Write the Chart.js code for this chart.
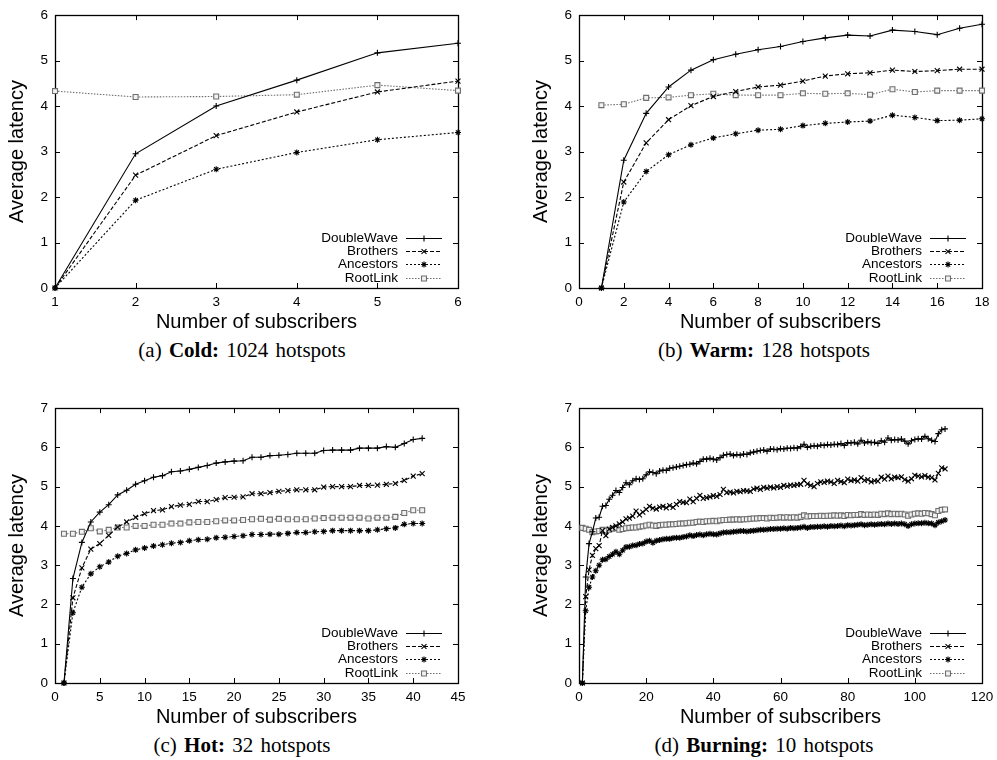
<!DOCTYPE html>
<html>
<head>
<meta charset="utf-8">
<script src="https://cdn.jsdelivr.net/npm/chart.js@4.4.1/dist/chart.umd.min.js"></script>
<style>
  body { margin: 0; background: #fff; width: 997px; height: 760px; position: relative; overflow: hidden; }
  canvas { position: absolute; }
  .cap { position: absolute; font-family: "Liberation Serif", "Times New Roman", serif; font-size: 21px;
         line-height: 24px; white-space: nowrap; transform: translateX(-50%); word-spacing: 2px; }
</style>
</head>
<body>
<canvas id="cold" width="490" height="335" style="left:0;top:0"></canvas>
<canvas id="warm" width="490" height="335" style="left:524px;top:0"></canvas>
<canvas id="hot" width="490" height="337" style="left:0;top:393px"></canvas>
<canvas id="burning" width="490" height="337" style="left:524px;top:393px"></canvas>
<div class="cap" style="left:242px;top:338px">(a) <b>Cold:</b> 1024 hotspots</div>
<div class="cap" style="left:764px;top:338px">(b) <b>Warm:</b> 128 hotspots</div>
<div class="cap" style="left:242px;top:733px">(c) <b>Hot:</b> 32 hotspots</div>
<div class="cap" style="left:764px;top:733px">(d) <b>Burning:</b> 10 hotspots</div>
<script>
// series names, in legend order
const seriesNames = ["DoubleWave", "Brothers", "Ancestors", "RootLink"];

// (a) Cold: 1024 hotspots, x = 1..6
const coldDoubleWave = [0, 2.95, 4.0, 4.57, 5.17, 5.38];
const coldBrothers = [0, 2.48, 3.35, 3.87, 4.31, 4.55];
const coldAncestors = [0, 1.93, 2.61, 2.98, 3.26, 3.42];
const coldRootLink = [4.33, 4.2, 4.21, 4.25, 4.46, 4.34];

// (b) Warm: 128 hotspots, x = 1..18
const warmDoubleWave = [0, 2.81, 3.84, 4.42, 4.79, 5.02, 5.14, 5.24, 5.31, 5.42, 5.5, 5.56, 5.54, 5.67, 5.64, 5.57, 5.71, 5.8];
const warmBrothers = [0, 2.33, 3.19, 3.7, 4.01, 4.21, 4.32, 4.42, 4.46, 4.55, 4.66, 4.71, 4.73, 4.79, 4.76, 4.78, 4.81, 4.81];
const warmAncestors = [0, 1.89, 2.56, 2.93, 3.15, 3.3, 3.39, 3.47, 3.49, 3.57, 3.62, 3.65, 3.67, 3.8, 3.75, 3.68, 3.69, 3.72];
const warmRootLink = [4.02, 4.04, 4.18, 4.19, 4.24, 4.27, 4.24, 4.24, 4.24, 4.28, 4.27, 4.28, 4.25, 4.37, 4.31, 4.34, 4.34, 4.34];

// (c) Hot: 32 hotspots, x = 1..41
const hotDoubleWave = [0, 2.66, 3.58, 4.1, 4.35, 4.54, 4.79, 4.91, 5.06, 5.15, 5.24, 5.28, 5.38, 5.4, 5.44, 5.49, 5.54, 5.6, 5.63, 5.65,
  5.66, 5.75, 5.75, 5.79, 5.8, 5.82, 5.85, 5.85, 5.85, 5.92, 5.93, 5.93, 5.93, 5.98, 5.98, 5.98, 6.02, 6.0, 6.1, 6.2, 6.23];
const hotBrothers = [0, 2.17, 2.93, 3.41, 3.55, 3.76, 3.97, 4.1, 4.22, 4.31, 4.39, 4.41, 4.49, 4.53, 4.55, 4.62, 4.62, 4.67, 4.72, 4.73,
  4.74, 4.82, 4.82, 4.85, 4.88, 4.9, 4.92, 4.92, 4.92, 4.99, 5.0, 5.0, 5.0, 5.03, 5.03, 5.04, 5.06, 5.08, 5.16, 5.27, 5.33];
const hotAncestors = [0, 1.79, 2.44, 2.78, 2.96, 3.08, 3.23, 3.3, 3.39, 3.44, 3.49, 3.52, 3.56, 3.58, 3.62, 3.65, 3.66, 3.7, 3.71, 3.73,
  3.75, 3.78, 3.78, 3.79, 3.79, 3.81, 3.83, 3.83, 3.85, 3.86, 3.88, 3.88, 3.88, 3.88, 3.88, 3.9, 3.93, 3.95, 4.04, 4.06, 4.06];
const hotRootLink = [3.8, 3.8, 3.85, 3.94, 3.86, 3.9, 3.96, 3.96, 4.0, 4.0, 4.03, 4.03, 4.06, 4.06, 4.09, 4.1, 4.1, 4.12, 4.14, 4.14,
  4.15, 4.17, 4.18, 4.16, 4.18, 4.17, 4.17, 4.17, 4.19, 4.2, 4.21, 4.21, 4.21, 4.21, 4.19, 4.21, 4.21, 4.23, 4.33, 4.4, 4.4];

// (d) Burning: 10 hotspots, x = 1..109
const burningDoubleWave = [0, 2.7, 3.55, 3.85, 4.2, 4.22, 4.5, 4.52, 4.68, 4.78, 4.9, 4.85, 4.98, 5.1, 5.05, 5.15, 5.2, 5.18, 5.2, 5.3,
  5.38, 5.36, 5.33, 5.4, 5.42, 5.41, 5.47, 5.48, 5.5, 5.52, 5.54, 5.56, 5.57, 5.6, 5.58, 5.64, 5.7, 5.7, 5.72, 5.7,
  5.68, 5.74, 5.8, 5.82, 5.83, 5.79, 5.82, 5.8, 5.83, 5.82, 5.86, 5.88, 5.9, 5.92, 5.93, 5.9, 5.96, 5.95, 5.94, 5.97,
  5.96, 5.98, 5.97, 5.99, 5.98, 6.02, 6.08, 6.0, 6.03, 6.04, 6.03, 6.06, 6.05, 6.07, 6.06, 6.08, 6.07, 6.1, 6.05, 6.12,
  6.11, 6.13, 6.09, 6.18, 6.11, 6.14, 6.12, 6.13, 6.1, 6.17, 6.13, 6.24, 6.18, 6.2, 6.19, 6.21, 6.16, 6.09, 6.17, 6.2,
  6.22, 6.21, 6.28, 6.22, 6.18, 6.15, 6.35, 6.45, 6.47];
const burningBrothers = [0, 2.2, 2.88, 3.25, 3.42, 3.5, 3.88, 3.75, 3.92, 3.96, 4.0, 4.05, 4.1, 4.18, 4.2, 4.25, 4.38, 4.28, 4.35, 4.42,
  4.5, 4.45, 4.43, 4.48, 4.5, 4.46, 4.52, 4.47, 4.55, 4.62, 4.6, 4.59, 4.68, 4.62, 4.7, 4.78, 4.7, 4.72, 4.74, 4.77,
  4.75, 4.8, 4.93, 4.85, 4.86, 4.84, 4.88, 4.87, 4.9, 4.89, 4.88, 4.94, 4.96, 4.93, 4.98, 4.96, 4.99, 4.97, 5.0, 4.98,
  5.03, 5.01, 5.04, 5.03, 5.05, 5.06, 5.16, 5.07, 5.03, 5.0, 5.08, 5.12, 5.11, 5.14, 5.12, 5.08, 5.16, 5.13, 5.1, 5.19,
  5.15, 5.17, 5.14, 5.23, 5.16, 5.18, 5.12, 5.15, 5.14, 5.24, 5.19, 5.27, 5.2, 5.24, 5.23, 5.25, 5.18, 5.14, 5.2, 5.29,
  5.27, 5.25, 5.28, 5.24, 5.23, 5.17, 5.34, 5.48, 5.45];
const burningAncestors = [0, 1.84, 2.44, 2.7, 2.86, 3.0, 3.14, 3.15, 3.22, 3.28, 3.34, 3.28, 3.38, 3.46, 3.47, 3.5, 3.51, 3.54, 3.55, 3.6,
  3.62, 3.57, 3.62, 3.64, 3.66, 3.67, 3.67, 3.69, 3.7, 3.7, 3.72, 3.73, 3.76, 3.74, 3.77, 3.78, 3.76, 3.79, 3.8, 3.79,
  3.78, 3.81, 3.83, 3.84, 3.84, 3.85, 3.86, 3.87, 3.87, 3.86, 3.87, 3.88, 3.89, 3.9, 3.9, 3.91, 3.92, 3.92, 3.93, 3.93,
  3.94, 3.93, 3.95, 3.94, 3.95, 3.96, 3.98, 3.95, 3.97, 3.97, 3.98, 3.98, 3.99, 3.98, 4.0, 3.99, 4.0, 4.01, 3.99, 4.02,
  4.01, 4.02, 4.03, 4.04, 4.02, 4.03, 4.04, 4.03, 4.04, 4.05, 4.04, 4.06, 4.05, 4.06, 4.05, 4.06, 4.04, 4.0, 4.04, 4.06,
  4.07, 4.07, 4.08, 4.07, 4.06, 4.02, 4.09, 4.12, 4.15];
const burningRootLink = [3.95, 3.93, 3.9, 3.84, 3.86, 3.87, 3.9, 3.88, 3.9, 3.93, 3.95, 3.9, 3.92, 3.94, 3.95, 3.96, 3.96, 3.98, 3.99, 4.01,
  4.03, 4.01, 4.0, 4.02, 4.03, 4.03, 4.04, 4.04, 4.05, 4.06, 4.06, 4.07, 4.08, 4.08, 4.1, 4.11, 4.1, 4.12, 4.12, 4.13,
  4.12, 4.14, 4.15, 4.15, 4.16, 4.16, 4.17, 4.16, 4.17, 4.17, 4.18, 4.19, 4.19, 4.2, 4.2, 4.19, 4.21, 4.2, 4.21, 4.22,
  4.21, 4.22, 4.21, 4.22, 4.21, 4.23, 4.27, 4.24, 4.25, 4.25, 4.25, 4.26, 4.25, 4.26, 4.26, 4.27, 4.26, 4.27, 4.25, 4.28,
  4.27, 4.28, 4.28, 4.3, 4.28, 4.29, 4.28, 4.29, 4.28, 4.31, 4.3, 4.32, 4.3, 4.31, 4.3, 4.31, 4.29, 4.26, 4.29, 4.31,
  4.32, 4.31, 4.33, 4.32, 4.3, 4.27, 4.38, 4.41, 4.42];

const FONT = '"Liberation Sans", Arial, Helvetica, sans-serif';
Chart.defaults.color = "#000";
Chart.defaults.font.family = FONT;

// gnuplot-ish line styles
const looks = [
  { color: "#000", dash: [], point: "cross", radius: 3 },
  { color: "#000", dash: [4, 2], point: "crossRot", radius: 3.5 },
  { color: "#000", dash: [2, 2], point: "star", radius: 3 },
  { color: "#6e6e6e", dash: [1.5, 1.5], point: "rect", radius: 3.5 },
];

// box + inward ticks on all four sides
const frame = {
  id: "frame",
  beforeDatasetsDraw(chart) {
    const { ctx, chartArea: a, scales } = chart;
    ctx.save();
    ctx.strokeStyle = "#000";
    ctx.lineWidth = 1;
    ctx.beginPath();
    scales.x.ticks.forEach(t => {
      const px = Math.round(scales.x.getPixelForValue(t.value)) + 0.5;
      ctx.moveTo(px, a.bottom); ctx.lineTo(px, a.bottom - 5);
      ctx.moveTo(px, a.top); ctx.lineTo(px, a.top + 5);
    });
    scales.y.ticks.forEach(t => {
      const py = Math.round(scales.y.getPixelForValue(t.value)) + 0.5;
      ctx.moveTo(a.left, py); ctx.lineTo(a.left + 5, py);
      ctx.moveTo(a.right, py); ctx.lineTo(a.right - 5, py);
    });
    ctx.stroke();
    ctx.lineWidth = 1.3;
    ctx.strokeRect(Math.round(a.left) + 0.5, Math.round(a.top) + 0.5, Math.round(a.right - a.left), Math.round(a.bottom - a.top));
    ctx.restore();
  },
};

// legend in the lower right: text, then line sample with marker
const keyBox = {
  id: "keyBox",
  afterDraw(chart) {
    const { ctx, chartArea: a } = chart;
    ctx.save();
    ctx.font = "13.5px " + FONT;
    ctx.textAlign = "right";
    ctx.textBaseline = "middle";
    chart.data.datasets.forEach((ds, i) => {
      const y = Math.round(a.bottom - 50 + i * 13.2) + 0.5;
      const x1 = a.right - 52, x2 = a.right - 16;
      ctx.fillStyle = "#000";
      ctx.fillText(ds.label, a.right - 60, y);
      ctx.strokeStyle = ds.borderColor;
      ctx.lineWidth = 1.1;
      ctx.setLineDash(ds.borderDash);
      ctx.beginPath(); ctx.moveTo(x1, y); ctx.lineTo(x2, y); ctx.stroke();
      ctx.setLineDash([]);
      ctx.fillStyle = ds.pointBackgroundColor;
      Chart.helpers.drawPoint(ctx, { pointStyle: ds.pointStyle, radius: ds.pointRadius, borderWidth: 1, rotation: 0 }, (x1 + x2) / 2, y);
    });
    ctx.restore();
  },
};

function makeChart(id, series, xMin, xMax, xStep, yMax) {
  const datasets = series.map((vals, i) => ({
    label: seriesNames[i],
    data: vals.map((v, j) => ({ x: j + 1, y: v })),
    borderColor: looks[i].color,
    borderDash: looks[i].dash,
    borderWidth: 1.1,
    pointStyle: looks[i].point,
    pointRadius: looks[i].radius,
    pointHoverRadius: looks[i].radius,
    pointBorderColor: looks[i].color,
    pointBackgroundColor: "#f2f2f2",
    pointBorderWidth: 1.1,
    tension: 0,
    clip: false,
  }));
  return new Chart(document.getElementById(id), {
    type: "line",
    data: { datasets },
    plugins: [frame, keyBox],
    options: {
      responsive: false,
      animation: false,
      layout: { padding: { top: 11, right: 32, left: 0, bottom: 0 } },
      plugins: { legend: { display: false }, tooltip: { enabled: false } },
      scales: {
        x: {
          type: "linear", min: xMin, max: xMax,
          ticks: { stepSize: xStep, font: { size: 13.5 }, padding: 6, maxRotation: 0 },
          grid: { display: false, drawTicks: false },
          border: { display: false },
          title: { display: true, text: "Number of subscribers", font: { size: 20 }, padding: { top: 0, bottom: 1 } },
          afterFit(s) { s.height = 47; },
        },
        y: {
          min: 0, max: yMax,
          ticks: { stepSize: 1, font: { size: 13.5 }, padding: 7 },
          grid: { display: false, drawTicks: false },
          border: { display: false },
          title: { display: true, text: "Average latency", font: { size: 20 }, padding: { top: 5, bottom: 0 } },
          afterFit(s) { s.width = 55; },
        },
      },
    },
  });
}

makeChart("cold", [coldDoubleWave, coldBrothers, coldAncestors, coldRootLink], 1, 6, 1, 6);
makeChart("warm", [warmDoubleWave, warmBrothers, warmAncestors, warmRootLink], 0, 18, 2, 6);
makeChart("hot", [hotDoubleWave, hotBrothers, hotAncestors, hotRootLink], 0, 45, 5, 7);
makeChart("burning", [burningDoubleWave, burningBrothers, burningAncestors, burningRootLink], 0, 120, 20, 7);
</script>
</body>
</html>
